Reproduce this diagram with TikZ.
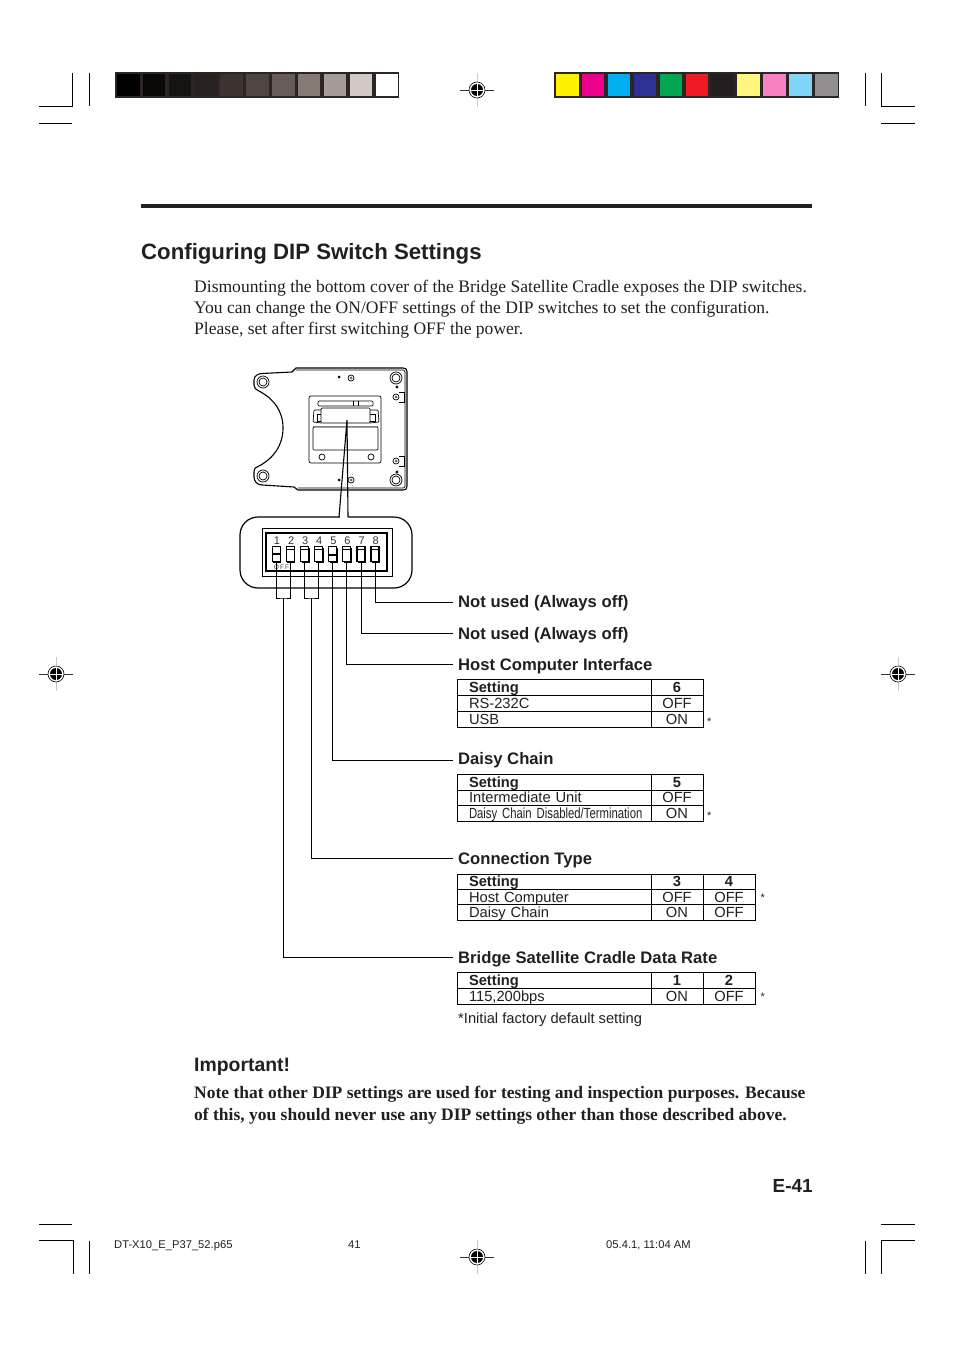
\documentclass[tikz,border=0pt]{standalone}
\usepackage{fontspec}
\setmainfont{Liberation Serif}
\setsansfont{Liberation Sans}
\newfontfamily\narrowfont[FakeStretch=0.77]{Liberation Sans}
\usepackage{xcolor}
\usepackage{tikz}
\usetikzlibrary{positioning, calc}
\definecolor{inkblack}{RGB}{35, 31, 32}
\definecolor{barframe}{RGB}{43, 37, 35}
\definecolor{cropgray}{RGB}{200, 200, 200}

\tikzset{
    bodytext/.style={anchor=base west, inner sep=0pt, font=\fontsize{17.55}{21}\selectfont, text=inkblack},
    notetext/.style={anchor=base west, inner sep=0pt, font=\bfseries\fontsize{17.5}{21}\selectfont, text=inkblack},
    heading/.style={anchor=base west, inner xsep=5pt, inner ysep=0pt, text height=13pt, text depth=3pt,
        font=\sffamily\bfseries\fontsize{16.65}{19}\selectfont, text=inkblack},
    smalltext/.style={anchor=base west, inner sep=0pt, font=\sffamily\fontsize{14.7}{17}\selectfont, text=inkblack},
    startext/.style={anchor=base west, inner sep=0pt, font=\sffamily\fontsize{11}{12}\selectfont, text=inkblack},
    foottext/.style={anchor=base west, inner sep=0pt, font=\sffamily\fontsize{11.2}{13}\selectfont, text=inkblack},
    settingcell/.style={draw=black, line width=1pt, outer sep=0pt, anchor=north west, align=left,
        text width=194pt, inner xsep=0pt, inner ysep=1pt, text height=12pt, text depth=2pt,
        font=\sffamily\fontsize{14.7}{17}\selectfont, text=inkblack},
    valuecell/.style={draw=black, line width=1pt, outer sep=0pt, anchor=north west, align=center,
        minimum width=52pt, inner xsep=0pt, inner ysep=1pt, text height=12pt, text depth=2pt,
        font=\sffamily\fontsize{14.7}{17}\selectfont, text=inkblack},
    midrow/.style={inner ysep=0.83pt},
    tightrow/.style={inner ysep=0.67pt},
    leader/.style={draw=black, line width=0.8pt},
    dipswitch/.style={draw=black, line width=1.2pt, minimum width=8pt, minimum height=15pt, inner sep=0pt, outer sep=0pt},
    devline/.style={draw=black, line width=0.7pt},
    cropline/.style={draw=black, line width=0.8pt},
}

% registration mark
\newcommand{\regmark}[2]{
    \draw[cropgray, line width=0.8pt] (#1,#2-17) -- (#1,#2+17);
    \draw[black!80, line width=0.6pt] (#1-17,#2) -- (#1+17,#2);
    \fill[white] (#1,#2) circle[radius=8];
    \draw[black, line width=0.6pt] (#1,#2) circle[radius=8];
    \fill[black] (#1,#2) circle[radius=6];
    \draw[white, line width=0.8pt] (#1-6,#2) -- (#1+6,#2) (#1,#2-6) -- (#1,#2+6);
}

\begin{document}
\begin{tikzpicture}[x=1pt, y=-1pt]
    \useasboundingbox (0,0) rectangle (954,1348);
    \fill[white] (0,0) rectangle (954,1348);

    % crop marks
    \draw[cropline] (39,106) -- (72,106) -- (72,73);
    \draw[cropline] (89,73) -- (89,106);
    \draw[cropline] (39,123) -- (72,123);
    \draw[cropline] (915,106) -- (881,106) -- (881,73);
    \draw[cropline] (865,73) -- (865,106);
    \draw[cropline] (881,123) -- (915,123);
    \draw[cropline] (39,1240) -- (73,1240) -- (73,1274);
    \draw[cropline] (89,1241) -- (89,1274);
    \draw[cropline] (39,1224) -- (72,1224);
    \draw[cropline] (915,1240) -- (881,1240) -- (881,1274);
    \draw[cropline] (865,1241) -- (865,1274);
    \draw[cropline] (881,1224) -- (915,1224);

    \regmark{477}{90}
    \regmark{477}{1257}
    \regmark{56}{674}
    \regmark{898}{674}

    % colour bars
    \fill[barframe] (115,72) rectangle (399,98);
    \foreach \i/\c in {0/000000, 1/0A0908, 2/161413, 3/262220, 4/3D3432, 5/4F4543, 6/675C5A, 7/857A74, 8/A59C98, 9/D2C9C7, 10/FFFFFF} {
        \definecolor{cellcolor}{HTML}{\c}
        \fill[cellcolor] (117+\i*25.85,74) rectangle ++(22.5,22);
    }
    \fill[barframe] (554,72) rectangle (839,98);
    \foreach \i/\c in {0/FFF200, 1/EC008C, 2/00AEEF, 3/2E3192, 4/00A651, 5/ED1C24, 6/231F20, 7/FFF77F, 8/F682C4, 9/7FD6F7, 10/918F90} {
        \definecolor{cellcolor}{HTML}{\c}
        \fill[cellcolor] (556+\i*25.9,74) rectangle ++(22.5,22);
    }

    % header and intro
    \draw[inkblack, line width=3.5pt] (141,206) -- (812,206);
    \node[anchor=base west, inner sep=0pt, font=\sffamily\bfseries\fontsize{22.2}{26}\selectfont, text=inkblack] (title) at (141,259) {Configuring DIP Switch Settings};
    \node[bodytext] (introa) at (194,292) {Dismounting the bottom cover of the Bridge Satellite Cradle exposes the DIP switches.};
    \node[bodytext] (introb) at (194,313) {You can change the ON/OFF settings of the DIP switches to set the configuration.};
    \node[bodytext] (introc) at (194,334) {Please, set after first switching OFF the power.};

    % cradle outline
    \draw[black, line width=1.1pt, line join=round]
        (296,368) -- (403,368) .. controls (406,368) and (407,369) .. (407,372)
        -- (407,486) .. controls (407,489) and (406,490) .. (403,490) -- (298,490) -- (294,487)
        -- (262,485) .. controls (257,485) and (254,481) .. (254,477)
        -- (254,472) .. controls (254,468) and (256,467) .. (259,466)
        .. controls (274,458) and (283,445) .. (283,428)
        .. controls (283,411) and (274,399) .. (259,391)
        .. controls (256,390) and (254,388) .. (254,385)
        -- (254,380) .. controls (254,376) and (258,373.5) .. (262,373.5)
        -- (292,372) -- cycle;
    \draw[devline] (296,370) -- (403,370) .. controls (404,370) and (405,371) .. (405,372) -- (405,486)
        .. controls (405,487) and (404,488) .. (403,488) -- (298,488);
    % screws
    \foreach \sx/\sy in {263/382, 263/476, 396/378, 396/480} {
        \draw[devline] (\sx,\sy) circle[radius=6];
        \draw[devline] (\sx,\sy) circle[radius=4];
    }
    \foreach \sx/\sy in {351/378, 351/480, 396/397, 396/461} {
        \draw[devline] (\sx,\sy) circle[radius=3];
        \fill[black!60] (\sx,\sy) circle[radius=1.5];
    }
    \fill[black] (339,377) circle[radius=1.5];
    \fill[black] (339,480) circle[radius=1.5];
    \draw[devline] (397,387) circle[radius=1.2];
    \draw[devline] (397,472) circle[radius=1.2];
    \draw[devline] (399,392) -- (404,392) -- (404,402) -- (399,402);
    \draw[devline] (399,456) -- (404,456) -- (404,466) -- (399,466);
    % panel
    \draw[devline, rounded corners=2pt] (309,396) rectangle (381,463);
    \draw[devline, rounded corners=1pt] (318,401) rectangle (373,406);
    \draw[devline] (353,401) -- (353,406) (358,401) -- (358,406);
    \draw[devline, rounded corners=1pt] (321,408) rectangle (370,423);
    \draw[devline, rounded corners=1pt] (321,410) -- (314,410) -- (313,422) -- (321,423);
    \draw[devline] (321,414) -- (317,414) -- (317,421) -- (321,421);
    \draw[devline, rounded corners=1pt] (370,410) -- (378,410) -- (379,422) -- (370,423);
    \draw[devline] (370,414) -- (375,414) -- (375,421) -- (370,421);
    \draw[devline, rounded corners=1pt] (313,427) rectangle (378,450);
    \draw[black!50, line width=0.8pt] (313,426) -- (378,426);
    \draw[devline] (322,457) circle[radius=3];
    \draw[devline] (371,457) circle[radius=3];

    % enlarged switch block
    \node[draw=black, line width=1.2pt, rounded corners=18pt, minimum width=172pt, minimum height=71pt, outer sep=0pt] (zoomcase) at (326,552.5) {};
    \coordinate (apex) at (347,420);
    \fill[white] (339.6,515) rectangle (347.6,519);
    \draw[black, line width=1.1pt] (339,517) -- (apex) -- (348,517);
    \node[draw=black, line width=1pt, minimum width=130pt, minimum height=48pt, outer sep=0pt] (dipframe) at (327,552) {};
    \node[draw=black, line width=2pt, minimum width=121pt, minimum height=38pt, outer sep=0pt] (dipblock) at (326.5,552) {};

    \foreach \n in {1,...,8} {
        \pgfmathsetmacro{\swx}{276.3+14.1*(\n-1)}
        \node[dipswitch] (sw\n) at (\swx,554.3) {};
        \fill[black] ($(sw\n.south west)+(1,-0.5)$) rectangle ($(sw\n.south east)+(1,1)$);
        \fill[black] ($(sw\n.north east)+(0,1)$) rectangle ($(sw\n.south east)+(1,1)$);
        \node[inner sep=0pt, font=\sffamily\fontsize{11}{12}\selectfont, text=black!80] (num\n) at (\swx+0.7,540.5) {\n};
    }
    % switch levers
    \foreach \n in {2,3,4,6,7,8} {
        \draw[black, line width=1.1pt] ($(sw\n.north west)+(0,3)$) -- ($(sw\n.north east)+(0,3)$);
    }
    \draw[black, line width=1.6pt] ($(sw1.west)+(0,-0.5)$) -- ($(sw1.east)+(0,-0.5)$);
    \draw[black, line width=1.6pt] ($(sw5.west)+(0,0.5)$) -- ($(sw5.east)+(0,0.5)$);
    \node[inner sep=0pt, font=\sffamily\fontsize{6.5}{7}\selectfont, text=black!70] (offlabel) at (281.5,567) {O\,F\,F};

    % settings
    \node[heading] (notuseda) at (453,607) {Not used (Always off)};
    \node[heading] (notusedb) at (453,639) {Not used (Always off)};
    \node[heading] (hostif) at (453,670) {Host Computer Interface};
    \node[heading] (daisy) at (453,764.5) {Daisy Chain};
    \node[heading] (conntype) at (453,864) {Connection Type};
    \node[heading] (datarate) at (453,963) {Bridge Satellite Cradle Data Rate};

    \coordinate (pairlow) at (283.3,598);
    \coordinate (pairmid) at (311.5,598);
    \draw[leader] (sw1.south) |- (pairlow) -| (sw2.south);
    \draw[leader] (sw3.south) |- (pairmid) -| (sw4.south);
    \draw[leader] (pairlow) |- ($(datarate.base west)+(0,-6)$);
    \draw[leader] (pairmid) |- ($(conntype.base west)+(0,-6)$);
    \draw[leader] (sw5.south) |- ($(daisy.base west)+(0,-4.5)$);
    \draw[leader] (sw6.south) |- ($(hostif.base west)+(0,-6)$);
    \draw[leader] (sw7.south) |- ($(notusedb.base west)+(0,-6)$);
    \draw[leader] (sw8.south) |- ($(notuseda.base west)+(0,-5)$);

    % tables
    \node[settingcell] (hosthead) at (457,679.5) {\hspace*{12pt}\textbf{Setting}};
    \node[valuecell, right=0pt of hosthead.north east, anchor=north west] (hostsix) {\textbf{6}};
    \node[settingcell, below=0pt of hosthead.south west, anchor=north west] (hostrs) {\hspace*{12pt}RS-232C};
    \node[valuecell, right=0pt of hostrs.north east, anchor=north west] (hostrsv) {OFF};
    \node[settingcell, below=0pt of hostrs.south west, anchor=north west] (hostusb) {\hspace*{12pt}USB};
    \node[valuecell, right=0pt of hostusb.north east, anchor=north west] (hostusbv) {ON};
    \node[startext] (hoststar) at (707,725) {*};

    \node[settingcell, midrow] (daisyhead) at (457,774.5) {\hspace*{12pt}\textbf{Setting}};
    \node[valuecell, midrow, right=0pt of daisyhead.north east, anchor=north west] (daisyfive) {\textbf{5}};
    \node[settingcell, midrow, below=0pt of daisyhead.south west, anchor=north west] (daisyint) {\hspace*{12pt}Intermediate Unit};
    \node[valuecell, midrow, right=0pt of daisyint.north east, anchor=north west] (daisyintv) {OFF};
    \node[settingcell, midrow, below=0pt of daisyint.south west, anchor=north west] (daisyend) {\hspace*{12pt}\mbox{\narrowfont Daisy Chain Disabled/Termination}};
    \node[valuecell, midrow, right=0pt of daisyend.north east, anchor=north west] (daisyendv) {ON};
    \node[startext] (daisystar) at (707,819) {*};

    \node[settingcell, tightrow] (connhead) at (457,874) {\hspace*{12pt}\textbf{Setting}};
    \node[valuecell, tightrow, right=0pt of connhead.north east, anchor=north west] (connthree) {\textbf{3}};
    \node[valuecell, tightrow, right=0pt of connthree.north east, anchor=north west] (connfour) {\textbf{4}};
    \node[settingcell, tightrow, below=0pt of connhead.south west, anchor=north west] (connhost) {\hspace*{12pt}Host Computer};
    \node[valuecell, tightrow, right=0pt of connhost.north east, anchor=north west] (connhostc) {OFF};
    \node[valuecell, tightrow, right=0pt of connhostc.north east, anchor=north west] (connhostd) {OFF};
    \node[settingcell, tightrow, below=0pt of connhost.south west, anchor=north west] (conndaisy) {\hspace*{12pt}Daisy Chain};
    \node[valuecell, tightrow, right=0pt of conndaisy.north east, anchor=north west] (conndaisyc) {ON};
    \node[valuecell, tightrow, right=0pt of conndaisyc.north east, anchor=north west] (conndaisyd) {OFF};
    \node[startext] (connstar) at (760.5,901.5) {*};

    \node[settingcell] (ratehead) at (457,972.5) {\hspace*{12pt}\textbf{Setting}};
    \node[valuecell, right=0pt of ratehead.north east, anchor=north west] (rateone) {\textbf{1}};
    \node[valuecell, right=0pt of rateone.north east, anchor=north west] (ratetwo) {\textbf{2}};
    \node[settingcell, below=0pt of ratehead.south west, anchor=north west] (ratebps) {\hspace*{12pt}115,200bps};
    \node[valuecell, right=0pt of ratebps.north east, anchor=north west] (ratebpsa) {ON};
    \node[valuecell, right=0pt of ratebpsa.north east, anchor=north west] (ratebpsb) {OFF};
    \node[startext] (ratestar) at (760.5,1000.5) {*};

    \node[smalltext] (factory) at (458,1023) {*Initial factory default setting};

    % footer text
    \node[anchor=base west, inner sep=0pt, font=\sffamily\bfseries\fontsize{19.4}{22}\selectfont, text=inkblack] (important) at (194,1071) {Important!};
    \node[notetext] (notea) at (194,1098) {Note that other DIP settings are used for testing and inspection purposes. Because};
    \node[notetext] (noteb) at (194,1120) {of this, you should never use any DIP settings other than those described above.};
    \node[anchor=base east, inner sep=0pt, font=\sffamily\bfseries\fontsize{19}{22}\selectfont, text=inkblack] (pagenum) at (813,1192) {E-41};
    \node[foottext] (footfile) at (114,1248) {DT-X10\_E\_P37\_52.p65};
    \node[foottext] (footpage) at (348,1248) {41};
    \node[foottext] (footdate) at (606,1248) {05.4.1, 11:04 AM};
\end{tikzpicture}
\end{document}
